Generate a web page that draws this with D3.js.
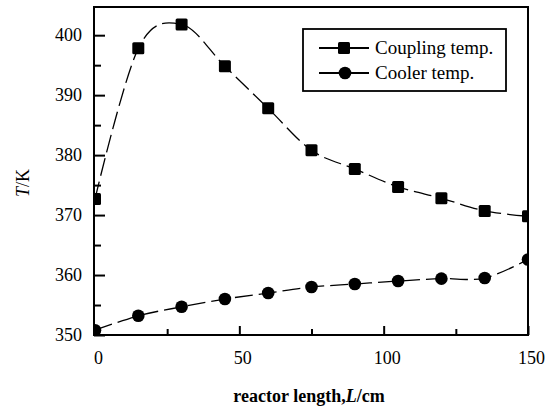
<!DOCTYPE html>
<html>
<head>
<meta charset="utf-8">
<script src="https://cdn.jsdelivr.net/npm/d3@7"></script>
<style>
  body { margin: 0; background: #fff; }
  svg text { font-family: "Liberation Serif", Tinos, "Times New Roman", Times, "DejaVu Serif", serif; }
</style>
</head>
<body>
<div id="chart"></div>
<script>
// reactor length (cm)
var lengths = [0, 15, 30, 45, 60, 75, 90, 105, 120, 135, 150];
// Coupling temp. (K)
var coupling = [372.7, 397.8, 401.8, 394.8, 387.8, 380.8, 377.7, 374.7, 372.8, 370.7, 369.8];
// Cooler temp. (K)
var cooler = [350.8, 353.2, 354.7, 356.0, 357.0, 358.0, 358.5, 359.0, 359.4, 359.5, 362.6];

var xMajor = [0, 50, 100, 150];
var xMinor = [25, 75, 125];
var yMajor = [350, 360, 370, 380, 390, 400];
var yMinor = [355, 365, 375, 385, 395];

var seriesNames = ["Coupling temp.", "Cooler temp."];

var serif = "'Liberation Serif', Tinos, 'Times New Roman', Times, 'DejaVu Serif', serif";

// Canvas
var width = 557;
var height = 420;
var margin = { top: 7, right: 29, bottom: 85, left: 94 };
var plotW = width - margin.left - margin.right;
var plotH = height - margin.top - margin.bottom;

var svg = d3.select("#chart")
  .append("svg")
  .attr("width", width)
  .attr("height", height);

var g = svg.append("g")
  .attr("transform", "translate(" + margin.left + "," + margin.top + ")");

// Scales
var xScale = d3.scaleLinear().domain([0, 150]).range([1, plotW]);
var yScale = d3.scaleLinear().domain([350, 404.7]).range([plotH, 0]);

// Clip the marks to the frame
svg.append("defs").append("clipPath")
  .attr("id", "plotClip")
  .append("rect")
  .attr("width", plotW)
  .attr("height", plotH);

// Axes: ticks point inward
var xAxis = d3.axisBottom(xScale)
  .tickValues(xMajor)
  .tickSizeInner(-9)
  .tickSizeOuter(0)
  .tickPadding(16)
  .tickFormat(d3.format("d"));
var xAxisMinor = d3.axisBottom(xScale)
  .tickValues(xMinor)
  .tickSizeInner(-6)
  .tickSizeOuter(0)
  .tickFormat("");
var yAxis = d3.axisLeft(yScale)
  .tickValues(yMajor)
  .tickSizeInner(-11)
  .tickSizeOuter(0)
  .tickPadding(12)
  .tickFormat(d3.format("d"));
var yAxisMinor = d3.axisLeft(yScale)
  .tickValues(yMinor)
  .tickSizeInner(-7)
  .tickSizeOuter(0)
  .tickFormat("");

function styleAxis(sel) {
  sel.attr("font-family", serif);
  sel.select(".domain").remove();
  sel.selectAll(".tick line").attr("stroke", "#000").attr("stroke-width", 2);
  sel.selectAll(".tick text")
    .attr("fill", "#000")
    .style("font-size", "18px")
    .style("font-family", serif);
}

g.append("g").attr("class", "xAxis")
  .attr("transform", "translate(0," + plotH + ")")
  .call(xAxis).call(styleAxis)
  .selectAll(".tick text").attr("dx", 3);
g.append("g").attr("class", "xAxis minor")
  .attr("transform", "translate(0," + plotH + ")")
  .call(xAxisMinor).call(styleAxis);
g.append("g").attr("class", "yAxis")
  .call(yAxis).call(styleAxis);
g.append("g").attr("class", "yAxis minor")
  .call(yAxisMinor).call(styleAxis);

// Frame
g.append("rect")
  .attr("width", plotW)
  .attr("height", plotH)
  .attr("fill", "none")
  .attr("stroke", "#000")
  .attr("stroke-width", 2);

// Series
var marks = g.append("g").attr("clip-path", "url(#plotClip)");

var line = d3.line()
  .x(function(d) { return xScale(d[0]); })
  .y(function(d) { return yScale(d[1]); })
  .curve(d3.curveCardinal.tension(0));

var couplingData = lengths.map(function(l, i) { return [l, coupling[i]]; });
var coolerData = lengths.map(function(l, i) { return [l, cooler[i]]; });

[couplingData, coolerData].forEach(function(data) {
  marks.append("path")
    .datum(data)
    .attr("d", line)
    .attr("fill", "none")
    .attr("stroke", "#000")
    .attr("stroke-width", 1.3)
    .attr("stroke-dasharray", "18,6");
});

var sq = 12;
marks.selectAll(".sq")
  .data(couplingData)
  .enter().append("rect")
  .attr("class", "sq")
  .attr("x", function(d) { return xScale(d[0]) - sq / 2; })
  .attr("y", function(d) { return yScale(d[1]) - sq / 2; })
  .attr("width", sq)
  .attr("height", sq)
  .attr("rx", 1.5)
  .attr("fill", "#000");

marks.selectAll(".dot")
  .data(coolerData)
  .enter().append("circle")
  .attr("class", "dot")
  .attr("cx", function(d) { return xScale(d[0]); })
  .attr("cy", function(d) { return yScale(d[1]); })
  .attr("r", 6.3)
  .attr("fill", "#000");

// Legend
var legend = svg.append("g").attr("class", "legend").attr("font-family", serif);
legend.append("rect")
  .attr("x", 303).attr("y", 29)
  .attr("width", 203).attr("height", 62)
  .attr("fill", "#fff")
  .attr("stroke", "#000")
  .attr("stroke-width", 1.8);

seriesNames.forEach(function(name, i) {
  var cy = 48 + i * 25;
  legend.append("line")
    .attr("x1", 319).attr("x2", 369)
    .attr("y1", cy).attr("y2", cy)
    .attr("stroke", "#000")
    .attr("stroke-width", 1.8);
  if (i === 0) {
    legend.append("rect")
      .attr("x", 344 - sq / 2).attr("y", cy - sq / 2)
      .attr("width", sq).attr("height", sq)
      .attr("rx", 1.5)
      .attr("fill", "#000");
  } else {
    legend.append("circle")
      .attr("cx", 345).attr("cy", cy)
      .attr("r", 6.3)
      .attr("fill", "#000");
  }
  legend.append("text")
    .attr("x", 375).attr("y", cy + 6)
    .style("font-size", "19px")
    .style("font-family", serif)
    .text(name);
});

// Axis titles
var xTitle = svg.append("text")
  .attr("x", 309).attr("y", 402)
  .attr("text-anchor", "middle")
  .style("font-family", serif)
  .style("font-size", "18px")
  .style("font-weight", "bold");
xTitle.append("tspan").text("reactor length,");
xTitle.append("tspan").style("font-style", "italic").text("L");
xTitle.append("tspan").text("/cm");

var yTitle = svg.append("text")
  .attr("transform", "translate(29,183) rotate(-90)")
  .attr("text-anchor", "middle")
  .style("font-family", serif)
  .style("font-size", "18px");
yTitle.append("tspan").style("font-style", "italic").text("T");
yTitle.append("tspan").text("/K");
</script>
</body>
</html>
